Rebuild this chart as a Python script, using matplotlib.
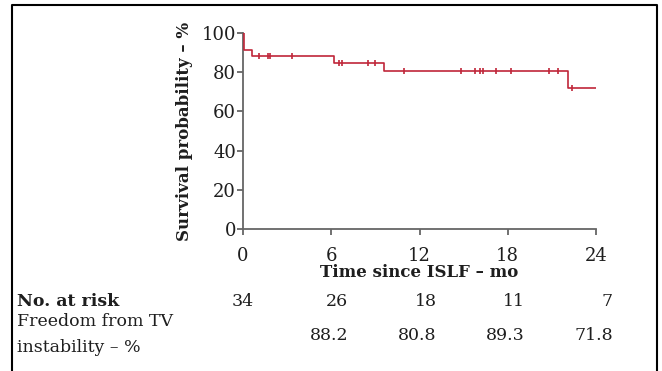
import numpy as np
import matplotlib
matplotlib.use("Agg")
import matplotlib.pyplot as plt
from matplotlib.lines import Line2D
from matplotlib.transforms import offset_copy, blended_transform_factory

# Kaplan-Meier steps (time in months, survival %)
step_times = [0, 0.1, 0.6, 6.2, 9.6, 22.1, 24]
step_surv = [100, 91.2, 88.2, 84.8, 80.8, 71.8, 71.8]

# censored observations
censor_times = [1.1, 1.7, 1.85, 3.3, 6.55, 6.7, 8.5, 8.95, 10.95, 14.85,
                15.75, 16.1, 16.3, 17.2, 18.2, 20.8, 21.4, 22.4]

x_ticks = [0, 6, 12, 18, 24]
y_ticks = [0, 20, 40, 60, 80, 100]
at_risk = ["34", "26", "18", "11", "7"]
freedom = ["", "88.2", "80.8", "89.3", "71.8"]

plt.rcParams['font.family'] = ['DejaVu Serif']
red = '#c0263a'
grey = '#666666'
txt = '#1e1e1e'

fig = plt.figure(figsize=(6.62, 3.71), dpi=100)
ax = fig.add_axes([243/662, 1 - 229/371, (596-243)/662, (229-33)/371])

ax.step(step_times, step_surv, where='post', color=red, lw=1.2, zorder=3)
idx = np.searchsorted(step_times, censor_times, side='right') - 1
cens_y = np.array(step_surv)[idx]
ax.plot(censor_times, cens_y, ls='none', marker='|', ms=5, mew=1.2, color=red, zorder=4)

ax.set_xlim(0, 24)
ax.set_ylim(0, 100)
ax.set_xticks(x_ticks)
ax.set_yticks(y_ticks)
for s in ['top', 'right']:
    ax.spines[s].set_visible(False)
for s in ['left', 'bottom']:
    ax.spines[s].set_color(grey)
    ax.spines[s].set_linewidth(1.3)
ax.tick_params(axis='both', colors=grey, width=1.3, length=4.5, labelsize=13, labelcolor=txt)
ax.tick_params(axis='x', pad=8.5)
ax.tick_params(axis='y', pad=0.5)

ax.set_xlabel('Time since ISLF – mo', fontsize=12, fontweight='bold', color=txt, labelpad=-1)
ax.set_ylabel('Survival probability – %', fontsize=12, fontweight='bold', color=txt)
ax.yaxis.set_label_coords((193 - 243) / 353, 0.5)

# risk table under the plot
row1_y = 1 - 301/371
row2_y = 1 - 335/371
fig.text(17/662, row1_y, 'No. at risk', fontsize=12.5, fontweight='bold', color=txt, va='center')
fig.text(17/662, 1 - 322/371, 'Freedom from TV', fontsize=12.5, color=txt, va='center')
fig.text(17/662, 1 - 347/371, 'instability – %', fontsize=12.5, color=txt, va='center')

blend = blended_transform_factory(ax.transData, fig.transFigure)
for i, (t, r, f) in enumerate(zip(x_ticks, at_risk, freedom)):
    if i == 0:
        ax.text(t, row1_y, r, transform=blend, ha='center', va='center', fontsize=12.5, color=txt)
        continue
    tr = offset_copy(blend, fig=fig, x=17, y=0, units='dots')
    ax.text(t, row1_y, r, transform=tr, ha='right', va='center', fontsize=12.5, color=txt)
    ax.text(t, row2_y, f, transform=tr, ha='right', va='center', fontsize=12.5, color=txt)

# frame around the figure (open at bottom)
L, R, T = 12/662, 657/662, 1 - 5/371
fig.add_artist(Line2D([L, L, R, R], [0, T, T, 0], transform=fig.transFigure,
                      color='black', lw=1.5))

fig.savefig('out.png', dpi=100)
